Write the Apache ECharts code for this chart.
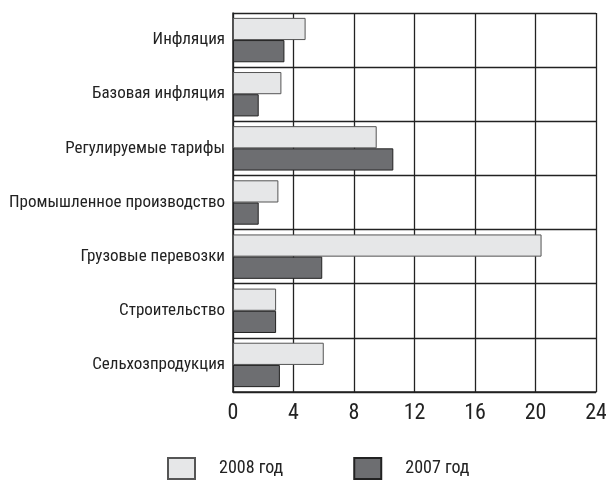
<!DOCTYPE html>
<html>
<head>
<meta charset="utf-8">
<script src="https://cdn.jsdelivr.net/npm/echarts@6/dist/echarts.min.js"></script>
<style>
  html, body { margin: 0; padding: 0; background: #fff; }
  #main { width: 606px; height: 483px; }
</style>
</head>
<body>
<div id="main"></div>
<script>
var categories = ['Инфляция', 'Базовая инфляция', 'Регулируемые тарифы', 'Промышленное производство',
                  'Грузовые перевозки', 'Строительство', 'Сельхозпродукция'];
var data2008 = [4.8, 3.2, 9.5, 3.0, 20.4, 2.85, 6.0];
var data2007 = [3.4, 1.7, 10.6, 1.7, 5.9, 2.85, 3.1];
var xTicks = [0, 4, 8, 12, 16, 20, 24];

var font = '"Roboto Condensed", "Liberation Sans Narrow", "DejaVu Sans Condensed", sans-serif';
var chart = echarts.init(document.getElementById('main'));

chart.setOption({
  animation: false,
  textStyle: { fontFamily: font },
  grid: { left: 233, right: 10, top: 13, bottom: 91, outerBoundsMode: 'none' },
  legend: {
    data: ['2008 год', '2007 год'],
    top: 452,
    left: 162,
    icon: 'rect',
    itemWidth: 27,
    itemHeight: 21,
    itemGap: 70,
    textStyle: { fontSize: 18, color: '#222', fontFamily: font, padding: [0, 0, 0, 19] }
  },
  xAxis: {
    type: 'value',
    min: xTicks[0],
    max: xTicks[xTicks.length - 1],
    interval: 4,
    axisLine: { show: true, lineStyle: { color: '#222', width: 1.5 } },
    axisTick: { show: false },
    axisLabel: { fontSize: 22, color: '#222', margin: 10 },
    splitLine: { show: true, lineStyle: { color: '#222', width: 1.3 } }
  },
  yAxis: {
    type: 'category',
    data: categories,
    inverse: true,
    axisLine: { show: true, lineStyle: { color: '#222', width: 1.5 } },
    axisTick: { show: false },
    axisLabel: { fontSize: 17, color: '#222', margin: 8 },
    splitLine: { show: true, interval: 0, lineStyle: { color: '#222', width: 1.3 } }
  },
  series: [
    {
      name: '2008 год',
      type: 'bar',
      data: data2008,
      barGap: '0%',
      barCategoryGap: '18%',
      itemStyle: { color: '#e6e7e8', borderColor: '#555', borderWidth: 1 }
    },
    {
      name: '2007 год',
      type: 'bar',
      data: data2007,
      itemStyle: { color: '#6d6e71', borderColor: '#222', borderWidth: 1 }
    }
  ]
});
</script>
</body>
</html>
